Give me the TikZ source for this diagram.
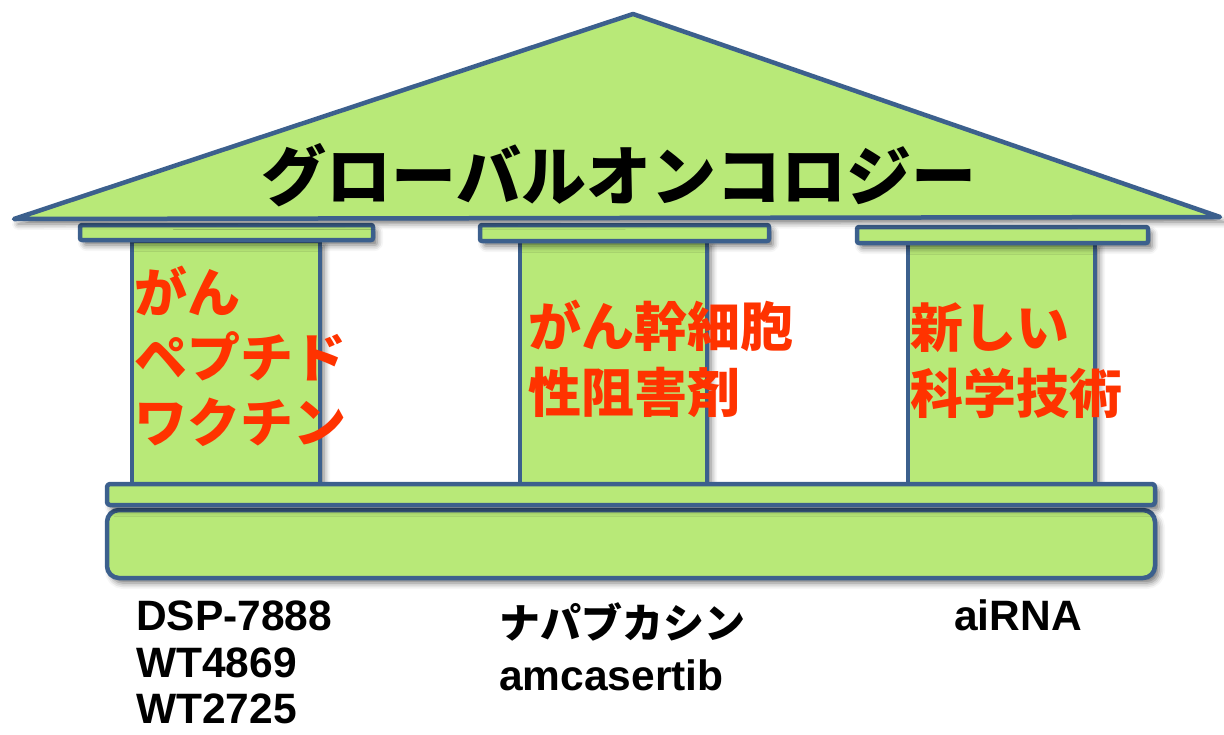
\documentclass[tikz,border=0pt]{standalone}
\usepackage{fontspec}
\setmainfont{Liberation Sans}
\newfontfamily\jp{Noto Sans CJK JP}
\usetikzlibrary{shadows.blur}
\definecolor{pfill}{RGB}{184,233,120}
\definecolor{pline}{RGB}{60,96,141}
\definecolor{pred}{RGB}{255,51,0}
\tikzset{
  part/.style={fill=pfill, draw=pline, line width=4.5pt, line join=round,
    blur shadow={shadow xshift=4pt, shadow yshift=-5pt, shadow blur radius=6pt, shadow opacity=55}},
  redtxt/.style={anchor=base west, inner sep=0pt, text=pred, font=\jp\bfseries\fontsize{53}{64}\selectfont},
  lbl/.style={anchor=base west, inner sep=0pt, text=black, font=\bfseries\fontsize{42.5}{50}\selectfont},
  jlbl/.style={anchor=base west, inner sep=0pt, text=black, font=\jp\bfseries\fontsize{41}{50}\selectfont},
}
\begin{document}
\begin{tikzpicture}[x=1pt,y=-1pt]
\useasboundingbox (0,0) rectangle (1224,734);
% columns
\path[part] (132,241) rectangle (320,484);
\path[part] (520,241) rectangle (707,484);
\path[part] (908,243) rectangle (1095,484);
% capital slabs
\path[part, rounded corners=2pt] (80,225) rectangle (373,240);
\path[part, rounded corners=2pt] (480,225) rectangle (769,241);
\path[part, rounded corners=2pt] (857,227) rectangle (1148,243);
% roof
\path[part] (14,219) -- (633,14) -- (1220,217) -- cycle;
% base
\path[part, rounded corners=12pt] (107,510) rectangle (1155,578);
\path[part, rounded corners=3pt] (107,484) rectangle (1155,505);
% title
\node[anchor=base, inner sep=0pt, font=\jp\bfseries\fontsize{65}{70}\selectfont] (title) at (619,200) {グローバルオンコロジー};
% pillar texts
\node[redtxt] (l1) at (134,312) {がん};
\node[redtxt] (l2) at (134,377) {ペプチド};
\node[redtxt] (l3) at (134,442) {ワクチン};
\node[redtxt] (m1) at (528,346) {がん幹細胞};
\node[redtxt] (m2) at (528,412) {性阻害剤};
\node[redtxt] (r1) at (910,347) {新しい};
\node[redtxt] (r2) at (910,413) {科学技術};
% labels
\node[lbl] (a1) at (136,630) {DSP-7888};
\node[lbl] (a2) at (136,677) {WT4869};
\node[lbl, text depth=0pt] (a3) at (136,723) {WT2725};
\node[jlbl] (b1) at (499,638) {ナパブカシン};
\node[lbl] (b2) at (499,690) {amcasertib};
\node[lbl] (c1) at (954,630) {aiRNA};
\end{tikzpicture}
\end{document}
